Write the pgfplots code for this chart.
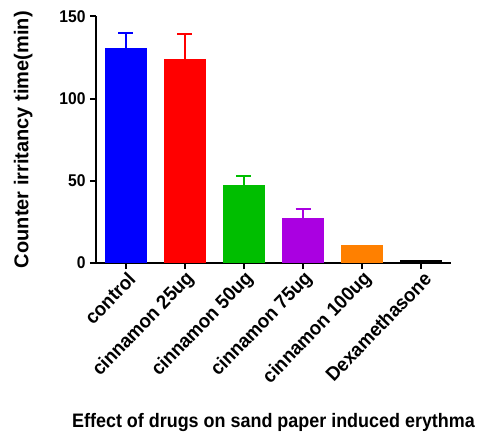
\documentclass[border=0pt]{standalone}
\usepackage{pgfplots}
\pgfplotsset{compat=1.18}
\usepackage{fontspec}
\setmainfont{Liberation Sans}
\newfontfamily\tallfont[FakeStretch=0.92]{Liberation Sans}
\newfontfamily\tickfont[FakeStretch=0.95]{Liberation Sans}
\definecolor{cblue}{RGB}{0,0,255}
\definecolor{cred}{RGB}{255,0,0}
\definecolor{cgreen}{RGB}{0,190,0}
\definecolor{cpurple}{RGB}{170,0,225}
\definecolor{corange}{RGB}{255,128,0}
\begin{document}
\begin{tikzpicture}
\useasboundingbox (-96bp,-169bp) rectangle (385bp,263bp);
\begin{axis}[
  at={(0,0)}, anchor=south west,
  scale only axis, width=355bp, height=246.7bp,
  xmin=-0.5, xmax=5.5, ymin=0, ymax=150,
  axis x line*=bottom, axis y line*=left,
  axis line style={line width=2bp, -},
  every tick/.style={line width=2bp, black},
  tick align=outside, major tick length=6bp,
  ytick={0,50,100,150},
  xtick={0,1,2,3,4,5},
  xticklabels={control, cinnamon 25ug, cinnamon 50ug, cinnamon 75ug, cinnamon 100ug, Dexamethasone},
  /pgf/number format/assume math mode=true,
  yticklabel style={font=\tallfont\fontsize{17bp}{18bp}\selectfont\bfseries, xshift=-1bp},
  xticklabel style={font=\tickfont\fontsize{19.5bp}{21bp}\selectfont\bfseries, rotate=46, anchor=east, xshift=3bp, yshift=-9bp},
  ylabel={Counter irritancy time(min)},
  ylabel style={font=\fontsize{20bp}{21bp}\selectfont\bfseries, at={(axis description cs:-0.205,0.5)}, anchor=center},
  xlabel={Effect of drugs on sand paper induced erythma},
  xlabel style={font=\tallfont\fontsize{19.5bp}{21bp}\selectfont\bfseries, at={(axis description cs:0.5,-0.665)}, anchor=base},
  ybar, bar width=42bp, bar shift=0pt,
  error bars/y dir=plus, error bars/y explicit,
  clip=false,
]
\addplot[fill=cblue, draw=none, error bars/error bar style={cblue, line width=2bp}, error bars/error mark options={cblue, rotate=90, mark size=7.5bp, line width=2.2bp}] coordinates {(0,130.5) +- (0,9.3)};
\addplot[fill=cred, draw=none, error bars/error bar style={cred, line width=2bp}, error bars/error mark options={cred, rotate=90, mark size=7.5bp, line width=2.2bp}] coordinates {(1,124) +- (0,15)};
\addplot[fill=cgreen, draw=none, error bars/error bar style={cgreen, line width=2bp}, error bars/error mark options={cgreen, rotate=90, mark size=7.5bp, line width=2.2bp}] coordinates {(2,47.6) +- (0,5.3)};
\addplot[fill=cpurple, draw=none, error bars/error bar style={cpurple, line width=2bp}, error bars/error mark options={cpurple, rotate=90, mark size=7.5bp, line width=2.2bp}] coordinates {(3,27.6) +- (0,5.1)};
\addplot[fill=corange, draw=none, error bars/y dir=none] coordinates {(4,10.8)};
\addplot[fill=black, draw=none, error bars/y dir=none] coordinates {(5,1.8)};
\end{axis}
\end{tikzpicture}
\end{document}
